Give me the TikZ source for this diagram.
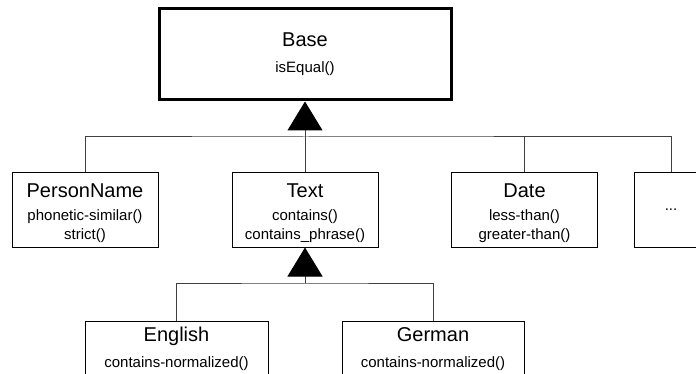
\documentclass[tikz,border=0pt]{standalone}
\usepackage{fontspec}
\setmainfont{Liberation Sans}
\usetikzlibrary{arrows.meta}
\begin{document}
\begin{tikzpicture}[x=1pt,y=-1pt,
  cls/.style={draw=black, line width=1pt, minimum width=146pt, minimum height=74pt, inner sep=0pt, fill=white},
  ttl/.style={font=\fontsize{20}{24}\selectfont, inner sep=0pt, anchor=base},
  mth/.style={font=\fontsize{15}{18}\selectfont, inner sep=0pt, anchor=base},
  conn/.style={draw=black!75, line width=1pt},
  inh/.style={conn, -{Triangle[width=35pt,length=29pt,color=black]}}]
\useasboundingbox (0,0) rectangle (696,374);
\clip (0,0) rectangle (696,374);
\fill[white] (0,0) rectangle (696,374);

% hubs
\coordinate (h1) at (305,137);
\coordinate (h2) at (305,283);

% classes
\node[cls, line width=3pt, minimum width=292pt, minimum height=91pt] (base) at (305,54.5) {};
\node[cls] (pn) at (85,210) {};
\node[cls] (txt) at (305,210) {};
\node[cls] (date) at (524.5,210) {};
\node[cls, minimum width=74pt] (more) at (671,210) {};
\node[cls, minimum width=183pt] (en) at (176.5,358) {};
\node[cls, minimum width=182pt] (de) at (433,358) {};

% texts
\node[ttl] (baseT) at ([yshift=-39pt]base.north) {Base};
\node[mth] (baseM) at ([yshift=-65pt]base.north) {isEqual()};

\node[ttl] (pnT) at ([yshift=-25pt]pn.north) {PersonName};
\node[mth] (pnM1) at ([yshift=-48pt]pn.north) {phonetic-similar()};
\node[mth] (pnM2) at ([yshift=-67pt]pn.north) {strict()};

\node[ttl] (txtT) at ([yshift=-25pt]txt.north) {Text};
\node[mth] (txtM1) at ([yshift=-48pt]txt.north) {contains()};
\node[mth] (txtM2) at ([yshift=-67pt]txt.north) {contains\_phrase()};

\node[ttl] (dateT) at ([yshift=-25pt]date.north) {Date};
\node[mth] (dateM1) at ([yshift=-48pt]date.north) {less-than()};
\node[mth] (dateM2) at ([yshift=-67pt]date.north) {greater-than()};

\node[mth, anchor=center] (moreT) at (more.center) {...};

\node[ttl] (enT) at ([yshift=-21pt]en.north) {English};
\node[mth] (enM) at ([yshift=-47pt]en.north) {contains-normalized()};

\node[ttl] (deT) at ([yshift=-21pt]de.north) {German};
\node[mth] (deM) at ([yshift=-47pt]de.north) {contains-normalized()};

% connectors
\draw[conn] (pn.north) |- (h1) -| (more.north);
\draw[conn] (txt.north) -- (h1);
\draw[conn] (date.north) -- (date.north |- h1);
\draw[inh] (h1) -- (base.south);

\draw[conn] (en.north) |- (h2) -| (de.north);
\draw[inh] (h2) -- (txt.south);
\end{tikzpicture}
\end{document}
